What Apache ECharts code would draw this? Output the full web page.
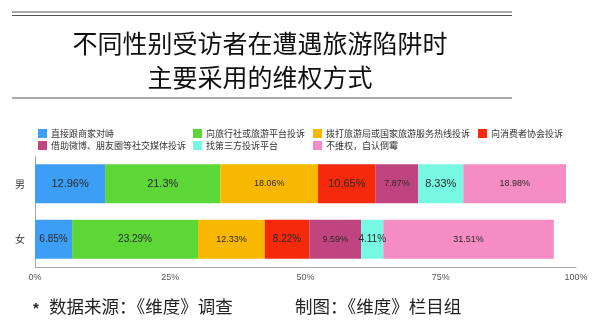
<!DOCTYPE html>
<html><head><meta charset="utf-8">
<script src="https://cdn.jsdelivr.net/npm/echarts@6/dist/echarts.min.js"></script>
<style>html,body{margin:0;padding:0;background:#fff}#c{width:600px;height:336px}</style>
</head><body><div id="c"></div>
<script>
const categories = ['男', '女'];
const seriesNames = ['直接跟商家对峙', '向旅行社或旅游平台投诉', '拨打旅游局或国家旅游服务热线投诉', '向消费者协会投诉', '借助微博、朋友圈等社交媒体投诉', '找第三方投诉平台', '不维权，自认倒霉'];
const male =   [12.96, 21.3, 18.06, 10.65, 7.87, 8.33, 18.98];
const female = [6.85, 23.29, 12.33, 8.22, 9.59, 4.11, 31.51];
const xTicks = [0, 25, 50, 75, 100];
const colors = ['#3d9ef5', '#5dd638', '#f9b800', '#f52a0c', '#c0447f', '#76f8e3', '#f58cc3'];
// label font sizes (styling only), per category row
const labelSizesMale =   [11, 11, 9, 11, 9, 11, 9];
const labelSizesFemale = [10, 10, 9, 10, 9, 10, 9];

const font = '"Noto Sans CJK SC", "Noto Sans", sans-serif';
const chart = echarts.init(document.getElementById('c'));
const series = seriesNames.map((n, i) => ({
  name: n, type: 'bar', stack: 'total', barWidth: 39,
  itemStyle: { color: colors[i] },
  label: { show: true, position: 'inside', color: '#2a2a2a', fontSize: 10, fontFamily: 'Helvetica, Arial, sans-serif',
    formatter: p => p.value + '%' },
  data: [
    { value: male[i], label: { fontSize: labelSizesMale[i] } },
    { value: female[i], label: { fontSize: labelSizesFemale[i] } }
  ]
}));
const legendBase = { orient: 'vertical', top: 129, itemWidth: 9, itemHeight: 9, itemGap: 3, icon: 'rect',
  textStyle: { fontSize: 9, color: '#333', fontFamily: font, padding: [0, 0, 0, -1] }, padding: 0 };
chart.setOption({
  animation: false,
  color: colors,
  title: { text: '不同性别受访者在遭遇旅游陷阱时\n主要采用的维权方式', left: 260, textAlign: 'center', top: 26, padding: 0,
    textStyle: { fontSize: 25, lineHeight: 34, fontWeight: 'normal', color: '#111', fontFamily: font } },
  legend: [
    Object.assign({}, legendBase, { left: 38, data: [seriesNames[0], seriesNames[4]] }),
    Object.assign({}, legendBase, { left: 193, data: [seriesNames[1], seriesNames[5]] }),
    Object.assign({}, legendBase, { left: 313, data: [seriesNames[2], seriesNames[6]] }),
    Object.assign({}, legendBase, { left: 478, data: [seriesNames[3]] })
  ],
  grid: { left: 35, right: 24, top: 156, bottom: 69, containLabel: false },
  xAxis: { type: 'value', min: 0, max: 100, interval: 25,
    axisLine: { show: true, lineStyle: { color: '#aaa' } }, axisTick: { show: false }, splitLine: { show: false },
    axisLabel: { formatter: v => xTicks.includes(v) ? v + '%' : '', color: '#555', fontSize: 9, margin: 6, fontFamily: 'Helvetica, Arial, sans-serif' } },
  yAxis: { type: 'category', data: categories, inverse: true,
    axisLine: { show: true, lineStyle: { color: '#aaa' } }, axisTick: { show: false },
    axisLabel: { color: '#333', fontSize: 10, margin: 10, fontFamily: font } },
  series: series,
  graphic: [
    { type: 'line', shape: { x1: 12, y1: 12, x2: 512, y2: 12 }, style: { stroke: '#555', lineWidth: 1 } },
    { type: 'line', shape: { x1: 12, y1: 15.5, x2: 512, y2: 15.5 }, style: { stroke: '#555', lineWidth: 1 } },
    { type: 'line', shape: { x1: 12, y1: 98, x2: 512, y2: 98 }, style: { stroke: '#555', lineWidth: 1 } },
    { type: 'text', style: { x: 33, y: 309, text: '*', fill: '#222', font: 'bold 15px sans-serif', verticalAlign: 'middle' } },
    { type: 'text', style: { x: 49, y: 306, text: '数据来源：《维度》调查', fill: '#222', font: '17.5px "Noto Sans CJK SC", sans-serif', verticalAlign: 'middle' } },
    { type: 'text', style: { x: 295, y: 306, text: '制图：《维度》栏目组', fill: '#222', font: '17.5px "Noto Sans CJK SC", sans-serif', verticalAlign: 'middle' } }
  ]
});
</script></body></html>
